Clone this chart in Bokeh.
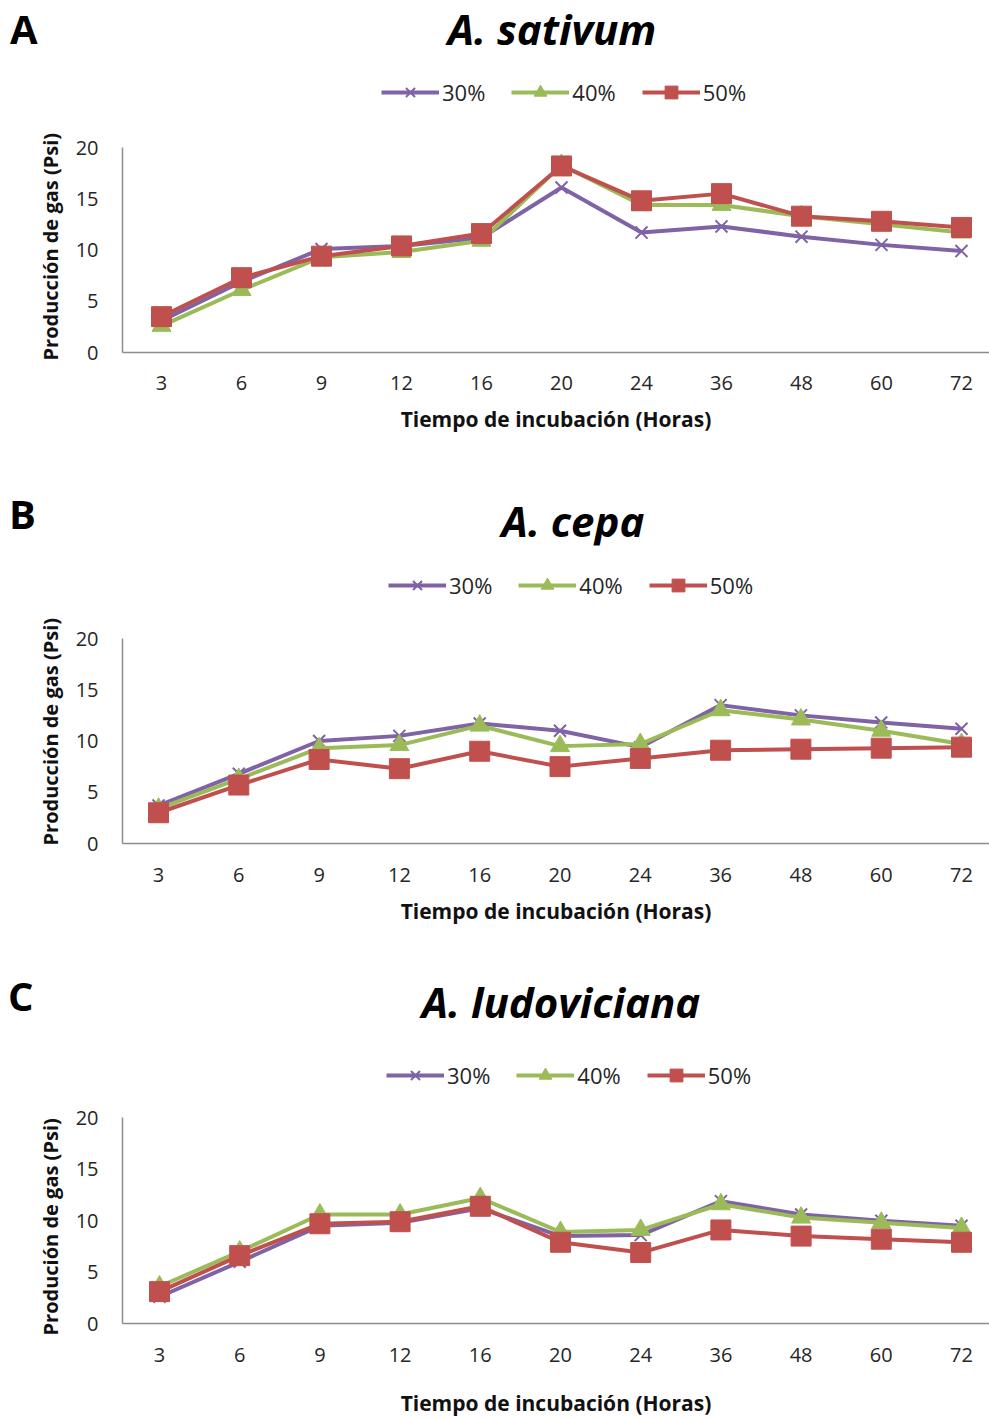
from bokeh.plotting import figure
from bokeh.layouts import column
from bokeh.models import Range1d, FixedTicker, Legend, LegendItem, Div, Title
from bokeh.embed import file_html
from bokeh.resources import INLINE

hours = ["3", "6", "9", "12", "16", "20", "24", "36", "48", "60", "72"]
series_names = ["30%", "40%", "50%"]

sativum_30 = [3.1, 6.9, 10.1, 10.4, 11.2, 16.1, 11.7, 12.3, 11.3, 10.5, 9.9]
sativum_40 = [2.6, 6.1, 9.3, 9.8, 10.9, 18.3, 14.4, 14.4, 13.3, 12.5, 11.7]
sativum_50 = [3.5, 7.3, 9.4, 10.4, 11.6, 18.2, 14.8, 15.5, 13.3, 12.8, 12.2]

cepa_30 = [3.7, 6.8, 10.0, 10.5, 11.7, 11.0, 9.4, 13.5, 12.5, 11.8, 11.2]
cepa_40 = [3.4, 6.3, 9.3, 9.6, 11.5, 9.5, 9.7, 13.0, 12.1, 11.0, 9.7]
cepa_50 = [3.0, 5.7, 8.2, 7.3, 9.0, 7.5, 8.3, 9.1, 9.2, 9.3, 9.4]

ludo_30 = [2.6, 6.0, 9.5, 9.8, 11.2, 8.5, 8.6, 11.9, 10.6, 10.0, 9.5]
ludo_40 = [3.6, 7.0, 10.6, 10.6, 12.2, 8.9, 9.1, 11.6, 10.3, 9.8, 9.3]
ludo_50 = [3.1, 6.6, 9.7, 9.9, 11.4, 7.9, 6.9, 9.1, 8.5, 8.2, 7.9]

y_ticks = [0, 5, 10, 15, 20]

FONT = "Open Sans"
PURPLE = "#7F63A5"
GREEN = "#9BBB59"
RED = "#C0504D"
AXIS = "#8C8C8C"
TXT = "#262626"
W = 989
LEFT = 122

panels = [
    dict(letter="A", title="A. sativum", ylabel="Producción de gas (Psi)",
         data=[sativum_30, sativum_40, sativum_50],
         div_h=55, fig_h=435, frame_px=297, unit_px=205 / 20, bottom=138,
         first_x=161, step=80.0, ylab_off=-8,
         letter_x=10, letter_y=30, title_x=552, title_y=30,
         leg_x=381, leg_vy=244, xstand=23, xlstand=12),
    dict(letter="B", title="A. cepa", ylabel="Producción de gas (Psi)",
         data=[cepa_30, cepa_40, cepa_50],
         div_h=55, fig_h=425, frame_px=298, unit_px=205 / 20, bottom=127,
         first_x=158, step=80.3, ylab_off=-2,
         letter_x=9, letter_y=25, title_x=573, title_y=32,
         leg_x=388, leg_vy=242, xstand=24, xlstand=12),
    dict(letter="C", title="A. ludoviciana", ylabel="Produción de gas (Psi)",
         data=[ludo_30, ludo_40, ludo_50],
         div_h=55, fig_h=394, frame_px=300, unit_px=207 / 20, bottom=94,
         first_x=159, step=80.2, ylab_off=-12,
         letter_x=8, letter_y=27, title_x=561, title_y=33,
         leg_x=386, leg_vy=232, xstand=24, xlstand=24),
]

children = []
for cfg in panels:
    fs_letter = 40
    fs_title = 42
    html = (
        f'<div style="position:relative;width:{W}px;height:{cfg["div_h"]}px;'
        f'font-family:\'{FONT}\';color:#000;">'
        f'<span style="position:absolute;left:{cfg["letter_x"]}px;'
        f'top:{cfg["letter_y"] - fs_letter * 0.531:.1f}px;font-size:{fs_letter}px;'
        f'font-weight:bold;line-height:1;white-space:nowrap;">{cfg["letter"]}</span>'
        f'<span style="position:absolute;left:{cfg["title_x"] - 250}px;width:500px;'
        f'text-align:center;top:{cfg["title_y"] - fs_title * 0.531:.1f}px;font-size:{fs_title}px;'
        f'font-weight:bold;font-style:italic;line-height:1;white-space:nowrap;">'
        f'{cfg["title"]}</span></div>'
    )
    div = Div(text=html, width=W, height=cfg["div_h"], margin=0,
              styles={"overflow": "visible"})
    children.append(div)

    p = figure(width=W, height=cfg["fig_h"], output_backend="svg",
               toolbar_location=None, tools="", title=None,
               min_border_top=0, min_border_bottom=cfg["bottom"],
               min_border_left=LEFT, min_border_right=0)
    idx = list(range(len(hours)))
    x0 = -(cfg["first_x"] - LEFT) / cfg["step"]
    p.x_range = Range1d(x0, x0 + (W - LEFT) / cfg["step"])
    p.y_range = Range1d(0, cfg["frame_px"] / cfg["unit_px"])
    p.outline_line_color = None
    p.background_fill_color = "white"
    p.border_fill_color = "white"
    p.xgrid.visible = False
    p.ygrid.visible = False

    xa = p.xaxis[0]
    xa.ticker = FixedTicker(ticks=idx)
    xa.major_label_overrides = {i: h for i, h in enumerate(hours)}
    ya = p.yaxis[0]
    ya.ticker = FixedTicker(ticks=y_ticks)
    ya.bounds = (0, 20)
    for ax in (xa, ya):
        ax.axis_line_color = AXIS
        ax.axis_line_width = 1.5
        ax.major_tick_line_color = None
        ax.minor_tick_line_color = None
        ax.major_tick_in = 0
        ax.major_tick_out = 0
        ax.minor_tick_out = 0
        ax.major_label_text_font = FONT
        ax.major_label_text_font_size = "20px"
        ax.major_label_text_color = TXT
        ax.axis_label_text_font = FONT
        ax.axis_label_text_font_size = "21px"
        ax.axis_label_text_font_style = "bold"
        ax.axis_label_text_color = "#111111"
    xa.axis_label = "Tiempo de incubación (Horas)"
    xa.major_label_standoff = cfg["xstand"]
    xa.axis_label_standoff = cfg["xlstand"]
    ya.major_label_standoff = 24

    ytitle = Title(text=cfg["ylabel"], align="left", offset=cfg["ylab_off"],
                   text_font=FONT, text_font_size="20px", text_font_style="bold",
                   text_color="#111111", standoff=17)
    p.add_layout(ytitle, "left")

    d30, d40, d50 = cfg["data"]
    l30 = p.line(idx, d30, line_color=PURPLE, line_width=4)
    m30 = p.scatter(idx, d30, marker="x", size=17, line_color=PURPLE, line_width=2)
    l40 = p.line(idx, d40, line_color=GREEN, line_width=4)
    m40 = p.scatter(idx, d40, marker="triangle", size=19, fill_color=GREEN, line_color=GREEN)
    l50 = p.line(idx, d50, line_color=RED, line_width=4)
    m50 = p.scatter(idx, d50, marker="square", size=20, fill_color=RED, line_color=RED)

    legend = Legend(items=[
        LegendItem(label=series_names[0], renderers=[l30, m30]),
        LegendItem(label=series_names[1], renderers=[l40, m40]),
        LegendItem(label=series_names[2], renderers=[l50, m50]),
    ], orientation="horizontal", border_line_color=None,
        background_fill_alpha=0, glyph_width=58, glyph_height=32,
        label_standoff=3, spacing=26, padding=4, margin=0,
        label_text_font=FONT, label_text_font_size="22px", label_text_color=TXT)
    legend.location = (cfg["leg_x"] - LEFT, cfg["leg_vy"])
    p.add_layout(legend, "center")
    children.append(p)

layout = column(*children, spacing=0)
open("out.html", "w").write(file_html(layout, INLINE))
